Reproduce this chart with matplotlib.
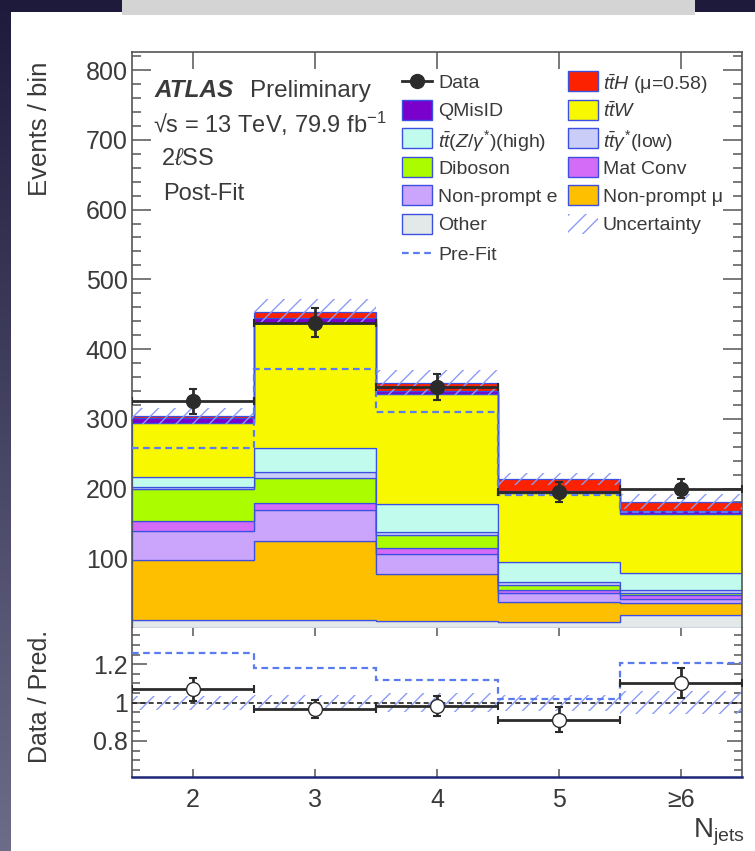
import numpy as np
import matplotlib
matplotlib.use('Agg')
import matplotlib.pyplot as plt
from matplotlib.patches import Rectangle
from matplotlib.lines import Line2D
from matplotlib.ticker import MultipleLocator
from matplotlib.colors import LinearSegmentedColormap

plt.rcParams['font.family'] = ['Liberation Sans', 'DejaVu Sans']
plt.rcParams['mathtext.fontset'] = 'custom'
plt.rcParams['mathtext.rm'] = 'Liberation Sans'
plt.rcParams['mathtext.it'] = 'Liberation Sans:italic'
plt.rcParams['mathtext.bf'] = 'Liberation Sans:bold'
plt.rcParams['hatch.linewidth'] = 1.0

# N_jets bins
bin_labels = ['2', '3', '4', '5', '≥6']

# post-fit yields per sample, bottom of the stack first
other = [12, 11, 10, 8, 19]
nonprompt_mu = [86, 114, 68, 29, 17]
nonprompt_e = [41, 44, 28, 12.5, 6]
mat_conv = [14, 10.5, 9, 4.7, 4.7]
diboson = [46, 35, 18, 8, 4]
ttgamma_low = [3, 9.5, 5, 4, 4]
ttz_high = [15, 33.5, 40, 28.7, 24]
ttw = [77, 180, 157, 98, 85]
qmisid = [7, 7.7, 5, 4, 3.5]
tth = [3, 8, 12, 17, 14]

data = [325, 438, 346, 195, 200]
prefit = [258, 371, 310, 191, 166]
syst_unc = [11, 18, 18, 9, 11]

TEXT = '#3a3a3a'
EDGE = '#3b4fe0'
HATCH = '#8b9cf4'
PREFIT = '#5b7cf0'

stack = [
    (other, '#e3e8e8'),
    (nonprompt_mu, '#fdbf00'),
    (nonprompt_e, '#cba4fb'),
    (mat_conv, '#d46cf8'),
    (diboson, '#acfc00'),
    (ttgamma_low, '#c9cdf8'),
    (ttz_high, '#c0fbee'),
    (ttw, '#f8f800'),
    (qmisid, '#7a00cc'),
    (tth, '#fc2200'),
]

W, H = 755, 851
fig = plt.figure(figsize=(W / 100, H / 100), dpi=100)


def fx(x):
    return x / W


def fy(y):
    return 1 - y / H


# slide background, white panel and title bar
bg = fig.add_axes([0, 0, 1, 1], zorder=-3)
grad = np.linspace(0, 1, 256).reshape(-1, 1)
bg.imshow(grad, aspect='auto', extent=[0, 1, 0, 1],
          cmap=LinearSegmentedColormap.from_list('slide', ['#1e1a3c', '#6c6c88']))
bg.axis('off')
fig.add_artist(Rectangle((fx(11), 0), 1 - fx(11), fy(12), transform=fig.transFigure,
                         facecolor='white', edgecolor='none', zorder=-2))
fig.add_artist(Rectangle((fx(122), fy(15)), fx(695) - fx(122), 1 - fy(15),
                         transform=fig.transFigure, facecolor='#d4d4d4',
                         edgecolor='none', zorder=-1))

edges = np.arange(1.5, 7.0, 1.0)
centers = np.arange(2, 7)
data = np.array(data, dtype=float)
prefit = np.array(prefit, dtype=float)
syst_unc = np.array(syst_unc, dtype=float)

# main panel
ax = fig.add_axes([fx(132), fy(628), fx(742) - fx(132), fy(52) - fy(628)])
bottom = np.zeros(5)
for vals, col in stack:
    top = bottom + np.array(vals, dtype=float)
    ax.stairs(top, edges, baseline=bottom, fill=True, facecolor=col,
              edgecolor=EDGE, linewidth=0.9, zorder=2)
    bottom = top
total = bottom

ax.stairs(total + syst_unc, edges, baseline=total - syst_unc, fill=True,
          facecolor='none', edgecolor=HATCH, linewidth=0, hatch='//', zorder=3)
ax.stairs(prefit, edges, baseline=None, color=PREFIT, linestyle=(0, (3, 2)),
          linewidth=1.6, zorder=4)
ax.errorbar(centers, data, yerr=np.sqrt(data), xerr=0.5, fmt='o', color='#2b2b2b',
            ms=10, lw=2, capsize=3, capthick=1.5, zorder=6)

ax.set_xlim(1.5, 6.5)
ax.set_ylim(0, 826)
ax.set_xticks(centers)
ax.set_yticks(np.arange(100, 900, 100))
ax.yaxis.set_minor_locator(MultipleLocator(20))
ax.tick_params(axis='x', which='major', direction='in', top=True, bottom=True,
               length=12, width=1.1, color='#555555', labelbottom=False)
ax.tick_params(axis='y', which='major', direction='in', left=True, right=True,
               length=13.5, width=1.1, color='#555555', labelsize=18,
               labelcolor=TEXT, pad=3)
ax.tick_params(axis='y', which='minor', direction='in', left=True, right=True,
               length=6.7, width=1.1, color='#555555')
for s in ax.spines.values():
    s.set_color('#555555')
    s.set_linewidth(1.2)
ax.spines['bottom'].set_visible(False)

# ratio panel
rax = fig.add_axes([fx(132), fy(777), fx(742) - fx(132), fy(628) - fy(777)])
rel_unc = syst_unc / total
rax.stairs(1 + rel_unc, edges, baseline=1 - rel_unc, fill=True, facecolor='none',
           edgecolor=HATCH, linewidth=0, hatch='//', zorder=2)
rax.axhline(1, color='#222222', linestyle=(0, (3, 2)), linewidth=1.2, zorder=3)
rax.stairs(data / prefit, edges, baseline=None, color=PREFIT, linestyle=(0, (3, 2)),
           linewidth=1.6, zorder=4)
rax.errorbar(centers, data / total, yerr=np.sqrt(data) / total, xerr=0.5, fmt='o',
             color='#2b2b2b', mfc='white', mec='#2b2b2b', ms=10, lw=2, capsize=3,
             capthick=1.5, zorder=6)
rax.set_xlim(1.5, 6.5)
rax.set_ylim(0.612, 1.389)
rax.set_xticks(centers, bin_labels)
rax.set_yticks([0.8, 1.0, 1.2], ['0.8', '1', '1.2'])
rax.yaxis.set_minor_locator(MultipleLocator(0.05))
rax.tick_params(axis='x', which='major', direction='in', top=True, length=6,
                width=1.1, color='#555555', labelsize=18, labelcolor=TEXT, pad=8)
rax.tick_params(axis='y', which='major', direction='in', left=True, right=True,
                length=11, width=1.1, color='#555555', labelsize=18,
                labelcolor=TEXT, pad=3)
rax.tick_params(axis='y', which='minor', direction='in', left=True, right=True,
                length=5.5, width=1.1, color='#555555')
for s in rax.spines.values():
    s.set_color('#555555')
    s.set_linewidth(1.2)
rax.spines['top'].set_visible(False)
rax.spines['bottom'].set_color('#1c2577')
rax.spines['bottom'].set_linewidth(1.8)

# axis titles
fig.text(fx(40), fy(62), 'Events / bin', rotation=90, ha='center', va='top',
         fontsize=18.5, color=TEXT)
fig.text(fx(40), fy(630), 'Data / Pred.', rotation=90, ha='center', va='top',
         fontsize=18, color=TEXT)
fig.text(fx(745), fy(838), r'N$_{\mathrm{jets}}$', ha='right', va='baseline',
         fontsize=20, color=TEXT)

# labels
fig.text(fx(155), fy(97), 'ATLAS', fontsize=17.5, fontweight='bold', style='italic',
         color=TEXT, va='baseline')
fig.text(fx(250), fy(97), 'Preliminary', fontsize=17.5, color=TEXT, va='baseline')
fig.text(fx(153), fy(133), '√s = 13 TeV, 79.9 fb$^{-1}$', fontsize=17, color=TEXT,
         va='baseline')
fig.text(fx(161), fy(165), r'2$\ell$SS', fontsize=17, color=TEXT, va='baseline')
fig.text(fx(163), fy(200), 'Post-Fit', fontsize=17, color=TEXT, va='baseline')

# legend, two columns
rows = [81, 109.5, 138, 167, 195, 224, 253]
col_box = [402, 568]
col_txt = [438, 603]
box_w, box_h = 30, 20


def legend_box(col, row, color, label):
    x0, y0 = col_box[col], rows[row]
    fig.add_artist(Rectangle((fx(x0), fy(y0 + box_h / 2)), fx(box_w), box_h / H,
                             transform=fig.transFigure, facecolor=color,
                             edgecolor=EDGE, linewidth=1.0, zorder=5))
    fig.text(fx(col_txt[col]), fy(y0), label, fontsize=14, color=TEXT,
             va='center_baseline', ha='left')


fig.add_artist(Line2D([fx(402), fx(432)], [fy(rows[0])] * 2, transform=fig.transFigure,
                      color='#2b2b2b', lw=2, zorder=5))
fig.add_artist(Line2D([fx(417)], [fy(rows[0])], transform=fig.transFigure, marker='o',
                      ms=10, color='#2b2b2b', zorder=6))
fig.text(fx(col_txt[0]), fy(rows[0]), 'Data', fontsize=14, color=TEXT,
         va='center_baseline')
legend_box(0, 1, '#7a00cc', 'QMisID')
legend_box(0, 2, '#c0fbee', r'$t\bar{t}(Z/\gamma^{*})$(high)')
legend_box(0, 3, '#acfc00', 'Diboson')
legend_box(0, 4, '#cba4fb', 'Non-prompt e')
legend_box(0, 5, '#e3e8e8', 'Other')
fig.add_artist(Line2D([fx(402), fx(432)], [fy(rows[6])] * 2, transform=fig.transFigure,
                      color=PREFIT, lw=1.6, linestyle=(0, (3, 2)), zorder=5))
fig.text(fx(col_txt[0]), fy(rows[6]), 'Pre-Fit', fontsize=14, color=TEXT,
         va='center_baseline')

legend_box(1, 0, '#fc2200', r'$t\bar{t}H$ (μ=0.58)')
legend_box(1, 1, '#f8f800', r'$t\bar{t}W$')
legend_box(1, 2, '#c9cdf8', r'$t\bar{t}\gamma^{*}$(low)')
legend_box(1, 3, '#d46cf8', 'Mat Conv')
legend_box(1, 4, '#fdbf00', 'Non-prompt μ')
fig.add_artist(Rectangle((fx(col_box[1]), fy(rows[5] + box_h / 2)), fx(box_w), box_h / H,
                         transform=fig.transFigure, facecolor='none', edgecolor=HATCH,
                         linewidth=0, hatch='//', zorder=5))
fig.text(fx(col_txt[1]), fy(rows[5]), 'Uncertainty', fontsize=14, color=TEXT,
         va='center_baseline')

fig.savefig('out.png', dpi=100)
